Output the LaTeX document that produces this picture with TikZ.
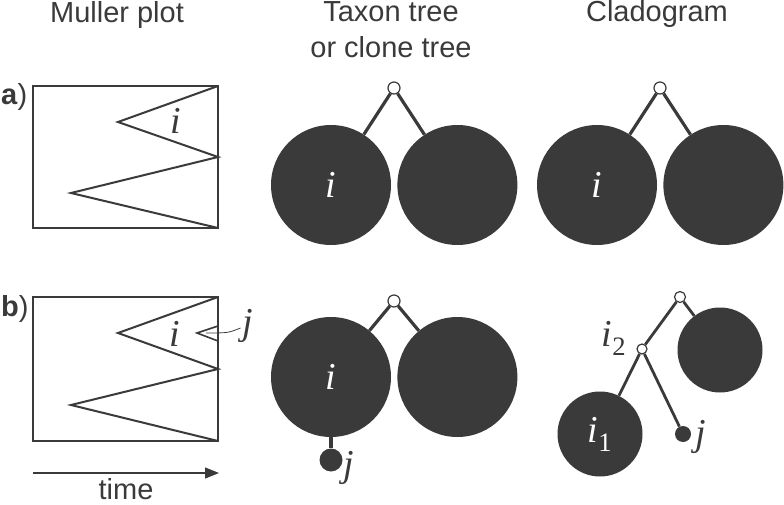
\documentclass[tikz,border=0pt]{standalone}
\usepackage{fontspec}
\setmainfont{Liberation Sans}
\newfontfamily\serif{Liberation Serif}
\usetikzlibrary{positioning,arrows.meta}
\definecolor{dk}{RGB}{58,58,58}
\newcommand{\var}[1]{{\serif\itshape #1}}

\begin{document}
\begin{tikzpicture}[x=1pt,y=-1pt,
	title/.style={font=\fontsize{29}{36}\selectfont, text=dk, align=center, inner sep=0pt},
	big/.style={circle, fill=dk, minimum size=120pt, inner sep=0pt, text=white, font=\fontsize{38}{38}\selectfont},
	mid/.style={circle, fill=dk, minimum size=85pt, inner sep=0pt, text=white, font=\fontsize{38}{38}\selectfont},
	tip/.style={circle, fill=dk, minimum size=#1, inner sep=0pt},
	root/.style={circle, draw=dk, fill=white, line width=1.2pt, minimum size=#1, inner sep=0pt},
	edge/.style={draw=dk, line width=3.2pt},
	box/.style={draw=dk, line width=2pt, line join=miter},
	lbl/.style={font=\fontsize{38}{38}\selectfont, text=dk, inner sep=0pt}]
	\useasboundingbox (0,0) rectangle (784,505);
	
	% column titles
	\node[title, anchor=base] (mt) at (117,23) {Muller plot};
	\node[title, anchor=base] (tt) at (391,22) {Taxon tree};
	\node[title, anchor=base, below=14pt of tt.base] (ttb) {or clone tree};
	\node[title, anchor=base] (ct) at (657,22) {Cladogram};
	
	\node[title, anchor=base west] (pa) at (1,105) {\textbf{a})};
	\node[title, anchor=base west] (pb) at (1,316) {\textbf{b})};
	
	% Muller plot a
	\draw[box] (33,86) rectangle (218,228);
	\draw[box] (218,86) -- (118,122) -- (218,157) -- (71,193) -- (218,228);
	\node[lbl] (mia) at (176,121) {\var{i}};
	
	% Muller plot b
	\draw[box] (33,297) rectangle (218,441);
	\draw[box] (218,297) -- (118,333) -- (218,369) -- (71,405) -- (218,441);
	\draw[box, line width=1.6pt] (218,326) -- (197,333) -- (218,341);
	\node[lbl] (mib) at (175,334) {\var{i}};
	\node[lbl] (mjb) at (248,326) {\var{j}};
	\coordinate (mjt) at (206,333);
	\draw[dk, line width=0.8pt] (mjb.west) ++(-2,2) coordinate (mjs) (mjs) .. controls (228,333) .. (mjt);
	
	\draw[dk, line width=1.2pt, -{Triangle[length=14pt,width=11pt]}] (33,473) -- (219,473);
	\node[title] (time) at (126,489) {time};
	
	% taxon tree a
	\node[big] (tia) at (331,185) {\var{i}};
	\node[big, right=6pt of tia] (tra) {};
	\node[root=12pt] (tna) at (394,88) {};
	\draw[edge] (tna) -- (tia);
	\draw[edge] (tna) -- (tra);
	
	% taxon tree b
	\node[big] (tib) at (331,377) {\var{i}};
	\node[big, right=6pt of tib] (trb) {};
	\node[root=12pt] (tnb) at (394,301) {};
	\node[tip=23pt] (tjb) at (331,460) {};
	\node[lbl] (tjl) at (349,468) {\var{j}};
	\draw[edge] (tnb) -- (tib);
	\draw[edge] (tnb) -- (trb);
	\draw[edge] (tib) -- (tjb);
	
	% cladogram a
	\node[big] (cia) at (597,185) {\var{i}};
	\node[big, right=6pt of cia] (cra) {};
	\node[root=12pt] (cna) at (660,88) {};
	\draw[edge] (cna) -- (cia);
	\draw[edge] (cna) -- (cra);
	
	% cladogram b
	\node[mid] (ci1) at (600,434) {\var{i}\textsubscript{\serif 1}};
	\node[mid] (crb) at (720,350) {};
	\node[root=11pt] (cnb) at (680,297) {};
	\node[root=10pt] (ci2) at (642,349) {};
	\node[tip=16pt] (cjb) at (683,434) {};
	\node[lbl] (cjl) at (701,437) {\var{j}};
	\node[lbl] (ci2l) at (614,338) {\var{i}\textsubscript{\serif 2}};
	\draw[edge, line width=2.8pt] (cnb) -- (crb);
	\draw[edge, line width=2.8pt] (cnb) -- (ci2);
	\draw[edge, line width=2.8pt] (ci2) -- (ci1);
	\draw[edge, line width=2.8pt] (ci2) -- (cjb);
\end{tikzpicture}
\end{document}
